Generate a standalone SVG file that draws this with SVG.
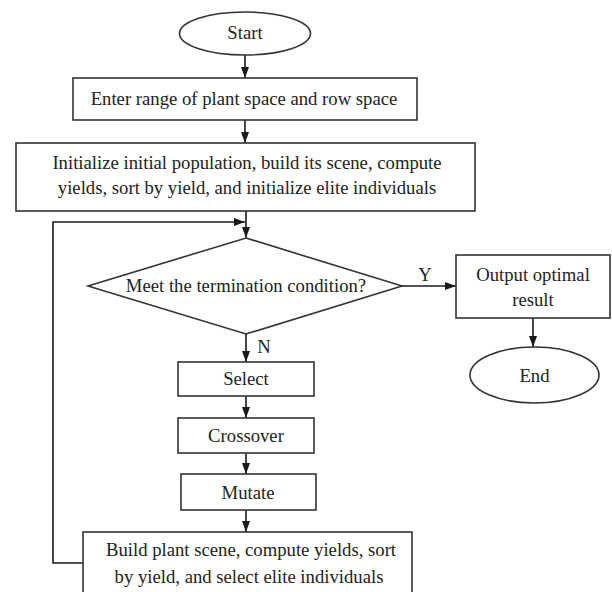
<svg xmlns="http://www.w3.org/2000/svg" width="612" height="592" viewBox="0 0 612 592">
<defs>
<marker id="ah" markerUnits="userSpaceOnUse" markerWidth="12" markerHeight="12" viewBox="0 0 12 12" refX="11" refY="6" orient="auto">
<path d="M0,2 L11,6 L0,10 Z" fill="#1a1a1a"/>
</marker>
<style>
.n{fill:#fff;stroke:#333;stroke-width:1.6}
.t{font-family:"Liberation Serif","Times New Roman",serif;font-size:18.7px;fill:#222;text-anchor:middle}
.c{fill:none;stroke:#1a1a1a;stroke-width:1.6;marker-end:url(#ah)}
</style>
</defs>
<rect width="612" height="592" fill="#fff"/>
<g id="connectors">
<line class="c" x1="245" y1="55" x2="245" y2="78"/>
<line class="c" x1="245" y1="120" x2="245" y2="143"/>
<line class="c" x1="246" y1="211" x2="246" y2="238"/>
<polyline class="c" points="83,563 53,563 53,222 245,222"/>
<line class="c" x1="246" y1="334" x2="246" y2="362"/>
<line class="c" x1="246" y1="396" x2="246" y2="418"/>
<line class="c" x1="246" y1="453" x2="246" y2="474"/>
<line class="c" x1="246" y1="510" x2="246" y2="532"/>
<line class="c" x1="402" y1="286" x2="456" y2="286"/>
<line class="c" x1="533" y1="318" x2="533" y2="347"/>
<text class="t" x="425" y="281">Y</text>
<text class="t" x="264" y="353">N</text>
</g>
<g id="start"><ellipse class="n" cx="245" cy="33.5" rx="65.5" ry="21.5"/><text class="t" x="245" y="39">Start</text></g>
<g id="enter"><rect class="n" x="73" y="78" width="344" height="42"/><text class="t" x="244" y="105">Enter range of plant space and row space</text></g>
<g id="init"><rect class="n" x="16" y="143" width="459" height="68"/><text class="t" x="247" y="169">Initialize initial population, build its scene, compute</text><text class="t" x="247" y="194">yields, sort by yield, and initialize elite individuals</text></g>
<g id="decision"><polygon class="n" points="246,238 402,286 246,334 88,286"/><text class="t" x="246" y="292">Meet the termination condition?</text></g>
<g id="output"><rect class="n" x="456" y="255" width="154" height="63"/><text class="t" x="533" y="281">Output optimal</text><text class="t" x="533" y="306">result</text></g>
<g id="end"><ellipse class="n" cx="534.5" cy="375" rx="64.5" ry="28"/><text class="t" x="534.5" y="382">End</text></g>
<g id="select"><rect class="n" x="178" y="362" width="136" height="34"/><text class="t" x="246" y="385">Select</text></g>
<g id="crossover"><rect class="n" x="178" y="418" width="136" height="35"/><text class="t" x="246" y="442">Crossover</text></g>
<g id="mutate"><rect class="n" x="181" y="474" width="135" height="36"/><text class="t" x="248" y="499">Mutate</text></g>
<g id="build"><rect class="n" x="83" y="532" width="329" height="70"/><text class="t" x="251" y="556">Build plant scene, compute yields, sort</text><text class="t" x="249" y="583">by yield, and select elite individuals</text></g>
</svg>
